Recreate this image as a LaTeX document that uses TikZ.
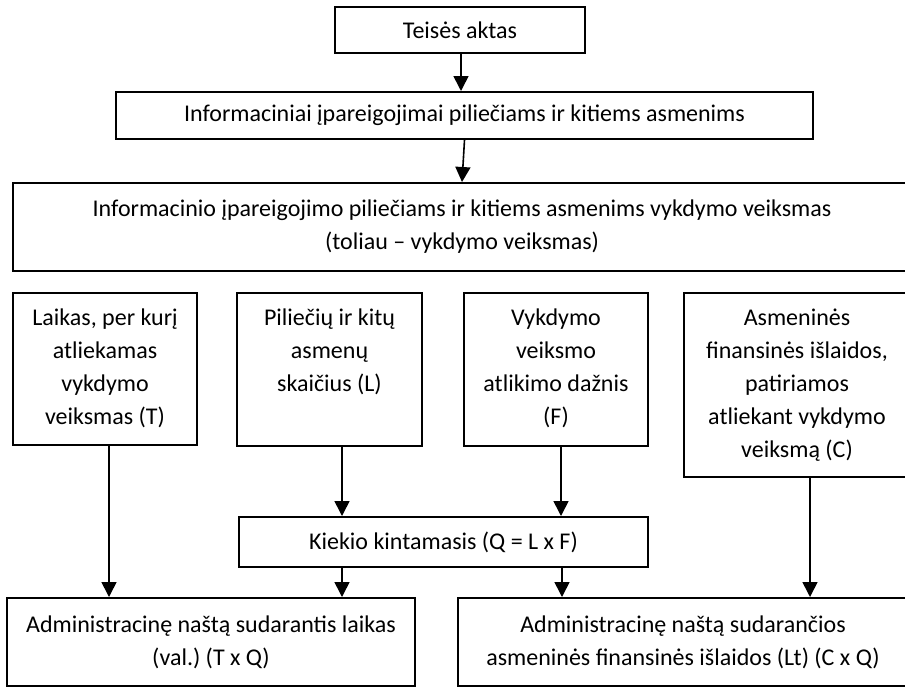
\documentclass[tikz,border=0pt]{standalone}
\usepackage{fontspec}
\setmainfont{Carlito}
\frenchspacing
\usepackage{tikz}
\usetikzlibrary{arrows.meta}

\begin{document}
\begin{tikzpicture}[x=0.5pt, y=-0.5pt,
  every node/.style={font=\fontsize{12}{16.5}\selectfont},
  box/.style={draw, line width=1pt, align=flush center, inner sep=2pt},
  varbox/.style={box, anchor=north, inner ysep=0pt, text height=16.5pt, text depth=#1},
  arr/.style={line width=0.8pt, -{Triangle[length=7.5pt, width=7.5pt]}}]
  \useasboundingbox (0,0) rectangle (905,687);
  % top part
  \node[box, minimum width=125pt, minimum height=23pt] (akt) at (460,30) {Teisės aktas};
  \node[box, minimum width=348.5pt, minimum height=23.5pt] (infoj) at (464.5,115.5)
    {Informaciniai įpareigojimai piliečiams ir kitiems asmenims};
  \node[box, minimum width=449pt, minimum height=44pt] (veiks) at (462,227)
    {Informacinio įpareigojimo piliečiams ir kitiems asmenims vykdymo veiksmas\\(toliau – vykdymo veiksmas)};
  % variables
  \node[varbox=59.5pt, text width=88pt] (T) at (105,291.5)
    {Laikas, per kurį\\atliekamas\\vykdymo\\veiksmas (T)};
  \node[varbox=60pt, text width=88.5pt] (L) at (329.5,291.5)
    {Piliečių ir kitų\\asmenų\\skaičius (L)};
  \node[varbox=60pt, text width=88pt] (F) at (556,291.5)
    {Vykdymo\\veiksmo\\atlikimo dažnis\\(F)};
  \node[varbox=75.5pt, text width=109pt] (C) at (797,291.5)
    {Asmeninės\\finansinės išlaidos,\\patiriamos\\atliekant vykdymo\\veiksmą (C)};
  \node[box, minimum width=204.5pt, minimum height=25pt] (Q) at (443.5,542)
    {Kiekio kintamasis (Q = L x F)};
  % results
  \node[box, minimum width=204pt, minimum height=44pt] (laik) at (211,642)
    {Administracinę naštą sudarantis laikas\\(val.) (T x Q)};
  \node[box, minimum width=225pt, minimum height=44pt] (fin) at (683,642)
    {Administracinę naštą sudarančios\\asmeninės finansinės išlaidos (Lt) (C x Q)};
  % arrows
  \draw[arr] ([xshift=0.5pt]akt.south) -- ([xshift=0.5pt]akt.south |- infoj.north);
  \draw[arr] (infoj.south) -- (veiks.north);
  \draw[arr] ([xshift=2pt]T.south) -- ([xshift=2pt]T.south |- laik.north);
  \draw[arr] ([xshift=6.25pt]L.south) -- ([xshift=6.25pt]L.south |- Q.north);
  \draw[arr] ([xshift=2.5pt]F.south) -- ([xshift=2.5pt]F.south |- Q.north);
  \draw[arr] ([xshift=6.25pt]L.south |- Q.south) -- ([xshift=6.25pt]L.south |- laik.north);
  \draw[arr] ([xshift=3pt]F.south |- Q.south) -- ([xshift=3pt]F.south |- fin.north);
  \draw[arr] ([xshift=6.5pt]C.south) -- ([xshift=6.5pt]C.south |- fin.north);
\end{tikzpicture}
\end{document}
